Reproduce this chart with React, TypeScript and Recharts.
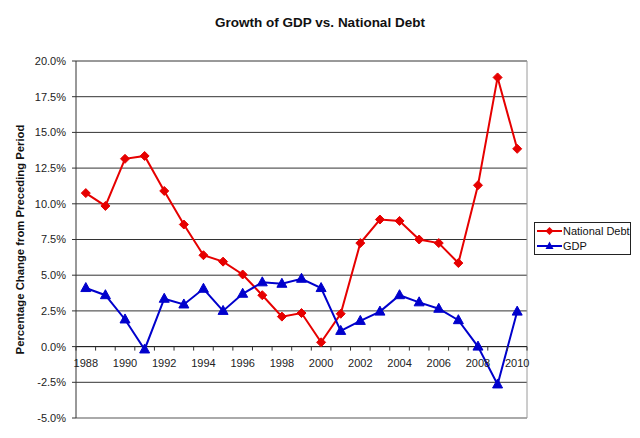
import React from "react";
import { LineChart, Line, XAxis, YAxis, CartesianGrid, ReferenceLine, Legend } from "recharts";

const years = [1988, 1989, 1990, 1991, 1992, 1993, 1994, 1995, 1996, 1997, 1998, 1999, 2000, 2001, 2002, 2003, 2004, 2005, 2006, 2007, 2008, 2009, 2010];
const nationalDebt = [10.75, 9.85, 13.15, 13.35, 10.9, 8.55, 6.4, 5.95, 5.05, 3.6, 2.1, 2.35, 0.3, 2.3, 7.25, 8.9, 8.8, 7.5, 7.25, 5.85, 11.3, 18.85, 13.85];
const gdp = [4.1, 3.6, 1.9, -0.2, 3.35, 2.95, 4.05, 2.5, 3.7, 4.5, 4.4, 4.75, 4.1, 1.1, 1.8, 2.45, 3.6, 3.1, 2.65, 1.85, 0.0, -2.65, 2.45];
const yTicks = [-5, -2.5, 0, 2.5, 5, 7.5, 10, 12.5, 15, 17.5, 20];
const xLabelYears = [1988, 1990, 1992, 1994, 1996, 1998, 2000, 2002, 2004, 2006, 2008, 2010];
const seriesKeys = ["debt", "gdp"];
const boundaryTicks = [...years.map((y) => y - 0.5), years[years.length - 1] + 0.5];

const data = years.map((year, i) => ({ year, debt: nationalDebt[i], gdp: gdp[i] }));
const xTicks = [...boundaryTicks, ...xLabelYears].sort((a, b) => a - b);

const W = 640;
const H = 438;
const TOP = 61;
const BOTTOM_MARGIN = 19;
const X_AXIS_H = 1;
const PLOT_H = H - TOP - BOTTOM_MARGIN - X_AXIS_H;
const Y_MIN = -5;
const Y_MAX = 20;
const Y0 = TOP + (PLOT_H * Y_MAX) / (Y_MAX - Y_MIN);

const RED = "#E60000";
const BLUE = "#0000CC";
const FONT = "Arial, 'Liberation Sans', sans-serif";

const Diamond = (props: any) => {
  const { cx, cy } = props;
  if (cx == null || cy == null) return null;
  const r = 4.5;
  return <polygon points={`${cx},${cy - r} ${cx + r},${cy} ${cx},${cy + r} ${cx - r},${cy}`} fill={RED} stroke={RED} />;
};

const Triangle = (props: any) => {
  const { cx, cy } = props;
  if (cx == null || cy == null) return null;
  return <polygon points={`${cx},${cy - 5.5} ${cx + 5},${cy + 3.5} ${cx - 5},${cy + 3.5}`} fill={BLUE} stroke={BLUE} />;
};

const XTick = (props: any) => {
  const { x, payload } = props;
  const v = payload.value;
  if (Number.isInteger(v)) {
    return (
      <text x={x} y={Y0 + 20} textAnchor="middle" fontSize={11} fontFamily={FONT} fill="#222">
        {v}
      </text>
    );
  }
  return <line x1={x} x2={x} y1={Y0} y2={Y0 + 4} stroke="#333" strokeWidth={1} />;
};

const LegendContent = (props: any) => {
  const items = [...(props.payload || [])].sort(
    (a: any, b: any) => seriesKeys.indexOf(a.dataKey) - seriesKeys.indexOf(b.dataKey)
  );
  return (
    <div
      style={{
        border: "1px solid #222",
        background: "#fff",
        width: 95,
        height: 31,
        boxSizing: "content-box",
        padding: 0,
        fontFamily: FONT,
        fontSize: 11,
        color: "#111",
      }}
    >
      {items.map((entry: any, i: number) => (
        <div key={i} style={{ display: "flex", alignItems: "center", height: 16, marginTop: i === 0 ? 0 : -1 }}>
          <svg width={27} height={12} style={{ marginLeft: 1 }}>
            <line x1={1} x2={26} y1={6} y2={6} stroke={entry.color} strokeWidth={2} />
            {entry.dataKey === "debt" ? (
              <polygon points="13.5,2 17.5,6 13.5,10 9.5,6" fill={entry.color} />
            ) : (
              <polygon points="13.5,1.5 17.5,9 9.5,9" fill={entry.color} />
            )}
          </svg>
          <span style={{ whiteSpace: "nowrap" }}>{entry.value}</span>
        </div>
      ))}
    </div>
  );
};

export default function App() {
  return (
    <div style={{ position: "absolute", left: 0, top: 0, width: W, height: H, background: "#fff" }}>
      <div
        style={{
          position: "absolute",
          left: 0,
          top: 15,
          width: W,
          textAlign: "center",
          fontFamily: FONT,
          fontWeight: "bold",
          fontSize: 13.5,
          color: "#111",
          lineHeight: "16px",
        }}
      >
        Growth of GDP vs. National Debt
      </div>
      <LineChart width={W} height={H} data={data} margin={{ top: TOP, right: 113, bottom: BOTTOM_MARGIN, left: 0 }}>
        <CartesianGrid horizontal={true} vertical={false} stroke="#333" strokeWidth={1} />
        <XAxis
          dataKey="year"
          type="number"
          domain={[years[0] - 0.5, years[years.length - 1] + 0.5]}
          ticks={xTicks}
          interval={0}
          axisLine={false}
          tickLine={false}
          tickSize={0}
          height={X_AXIS_H}
          tick={<XTick />}
          allowDataOverflow
        />
        <YAxis
          type="number"
          domain={[Y_MIN, Y_MAX]}
          ticks={yTicks}
          interval={0}
          width={76}
          axisLine={{ stroke: "#333", strokeWidth: 1 }}
          tickLine={{ stroke: "#333" }}
          tickSize={4}
          tickMargin={6}
          tick={{ fontSize: 11, fontFamily: FONT, fill: "#222" }}
          tickFormatter={(v: number) => v.toFixed(1) + "%"}
          allowDataOverflow
          label={(p: any) => {
            const vb = p.viewBox || {};
            const cy = (vb.y ?? TOP) + (vb.height ?? PLOT_H) / 2;
            return (
              <text
                x={24}
                y={cy}
                transform={`rotate(-90 24 ${cy})`}
                textAnchor="middle"
                fontSize={11.3}
                fontWeight="bold"
                fontFamily={FONT}
                fill="#111"
              >
                Percentage Change from Preceding Period
              </text>
            );
          }}
        />
        <ReferenceLine y={Y_MAX} stroke="#9a9a9a" strokeWidth={1} />
        <ReferenceLine y={Y_MIN} stroke="#b0b0b0" strokeWidth={1.5} />
        <ReferenceLine x={years[years.length - 1] + 0.5} stroke="#9a9a9a" strokeWidth={1} />
        <ReferenceLine y={0} stroke="#222" strokeWidth={1} />
        <Legend
          layout="vertical"
          align="center"
          verticalAlign="middle"
          content={<LegendContent />}
          wrapperStyle={{ position: "absolute", left: 534, top: 222, width: 97, height: 33 }}
        />
        <Line
          type="linear"
          dataKey="debt"
          name="National Debt"
          stroke={RED}
          strokeWidth={2}
          dot={<Diamond />}
          activeDot={false}
          isAnimationActive={false}
        />
        <Line
          type="linear"
          dataKey="gdp"
          name="GDP"
          stroke={BLUE}
          strokeWidth={2}
          dot={<Triangle />}
          activeDot={false}
          isAnimationActive={false}
        />
      </LineChart>
    </div>
  );
}
